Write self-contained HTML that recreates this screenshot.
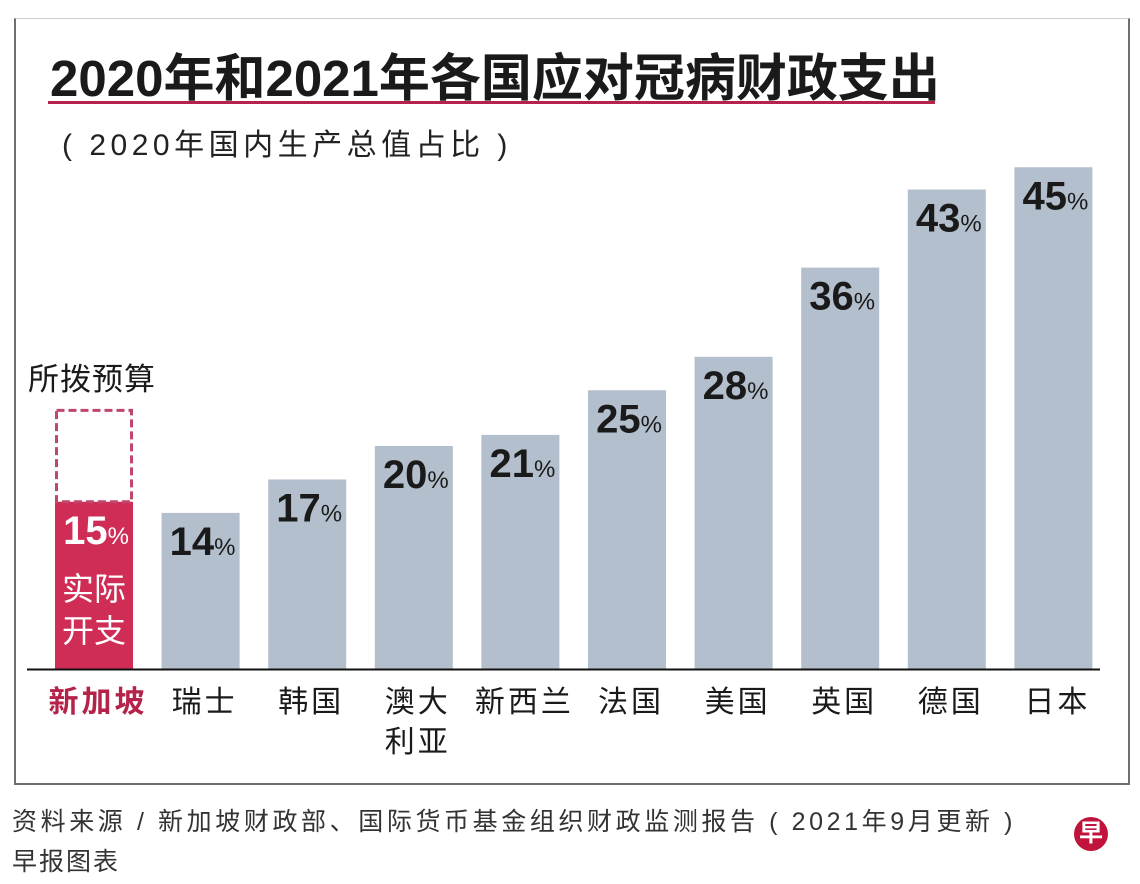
<!DOCTYPE html>
<html><head><meta charset="utf-8">
<style>
body{margin:0;width:1140px;height:884px;background:#fff;font-family:"Liberation Sans","Noto Sans CJK SC",sans-serif;position:relative;overflow:hidden}
.frame{position:absolute;left:14px;top:18px;width:1116px;height:767px;border:2px solid #6f6f6f;border-top:1px solid #ccc;box-sizing:border-box}
.t{position:absolute;white-space:nowrap}
</style></head><body>
<div class="frame"></div>
<div class="t" style="left:50px;top:37px;font-size:51px;font-weight:bold;color:#1a1a1a;letter-spacing:0px">2020年和2021年各国应对冠病财政支出</div>
<div style="position:absolute;left:48px;top:101px;width:887px;height:3px;background:#b5234a"></div>
<div class="t" style="left:62px;top:120px;font-size:30px;color:#222;letter-spacing:4.5px">( 2020年国内生产总值占比 )</div>
<svg id="c" width="1140" height="884" style="position:absolute;left:0;top:0"></svg>
<div class="t" style="left:12px;top:802px;font-size:25px;color:#333;letter-spacing:3.6px">资料来源 / 新加坡财政部、国际货币基金组织财政监测报告 ( 2021年9月更新 )</div>
<div class="t" style="left:12px;top:842px;font-size:25px;color:#333;letter-spacing:2px">早报图表</div>
<div style="position:absolute;left:1074px;top:817px;width:34px;height:34px;border-radius:50%;background:#c0143c;color:#fff;font-size:24px;font-weight:bold;text-align:center;line-height:34px">早</div>
<script>
const categories=["新加坡","瑞士","韩国","澳大利亚","新西兰","法国","美国","英国","德国","日本"];
const values=[15,14,17,20,21,25,28,36,43,45];
const budget=[23.2];
const ns="http://www.w3.org/2000/svg",svg=document.getElementById('c');
const base=669,k=11.15,x0=55,step=106.6,bw=78;
const y=v=>base-v*k, x=i=>x0+i*step;
function mk(t,a){const e=document.createElementNS(ns,t);for(const n in a)e.setAttribute(n,a[n]);svg.appendChild(e);return e;}
values.forEach((v,i)=>{
 const r=mk('rect',{x:x(i),y:y(v),width:bw,height:v*k,fill:i==0?'#cf2d55':'#b3bfcc'});
 
 
 const t=mk('text',{x:x(i)+bw/2+2,y:y(v)+42,'text-anchor':'middle','font-size':40,'font-weight':'bold',fill:i==0?'#fff':'#1a1a1a','font-family':'Liberation Sans, sans-serif'});
 t.innerHTML=v+'<tspan font-size="24" font-weight="normal">%</tspan>';
 
 
 const lab=categories[i];const lines=lab.length==4?[lab.slice(0,2),lab.slice(2)]:[lab];
 lines.forEach((s,j)=>{const c=mk('text',{x:x(i)+bw/2+4,y:712+j*40,'text-anchor':'middle','font-size':30,'letter-spacing':3,fill:i==0?'#b5234a':'#1a1a1a','font-weight':i==0?'bold':'normal','font-family':'Noto Sans CJK SC, sans-serif'});c.textContent=s;
 
 });
});
const bx=mk('rect',{x:x(0)+1.5,y:y(budget[0]),width:bw-3,height:(budget[0]-values[0])*k,fill:'none',stroke:'#c0476c','stroke-width':3,'stroke-dasharray':'8 4'});


const bt=mk('text',{x:28,y:390,'font-size':31,'letter-spacing':1,fill:'#1a1a1a','font-family':'Noto Sans CJK SC, sans-serif'});bt.textContent='所拨预算';


['实际','开支'].forEach((s,j)=>{const t=mk('text',{x:x(0)+bw/2,y:600+j*42,'text-anchor':'middle','font-size':32,fill:'#fff','font-family':'Noto Sans CJK SC, sans-serif'});t.textContent=s;

});
const ax=mk('line',{x1:27,x2:1100,y1:base+0.5,y2:base+0.5,stroke:'#111','stroke-width':2});


</script>
</body></html>
